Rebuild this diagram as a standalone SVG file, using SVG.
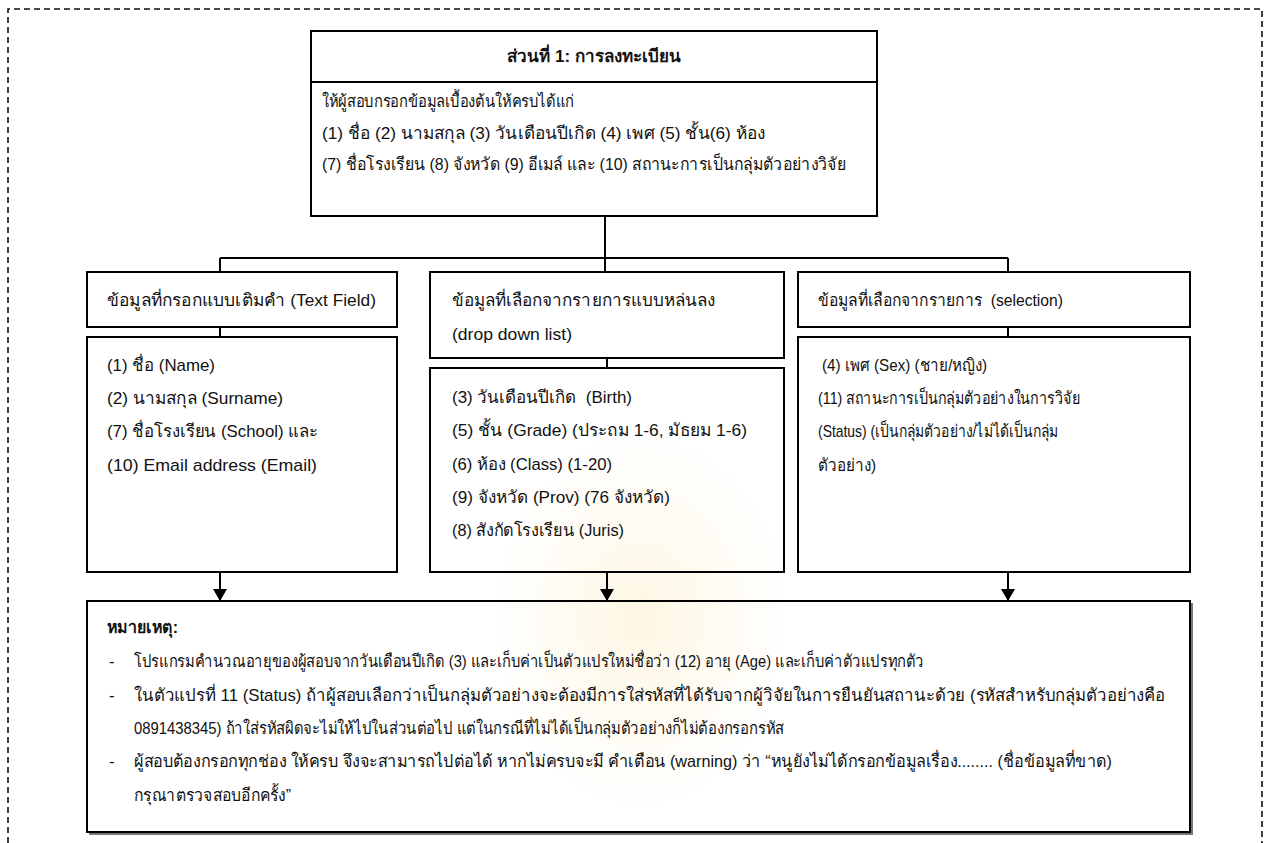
<svg xmlns="http://www.w3.org/2000/svg" width="1269" height="843" viewBox="0 0 1269 843">
  <defs>
    <style>
      .box { fill: none; stroke: #000; stroke-width: 2; }
      .line { fill: none; stroke: #000; stroke-width: 2; }
      .frame { fill: none; stroke: #111; stroke-width: 1.6; stroke-dasharray: 6 4; }
      .t { font-family: "Liberation Sans", "Noto Sans", "DejaVu Sans", sans-serif; font-size: 17px; fill: #111; }
      .b { font-weight: bold; font-size: 17px; }
    </style>
    <marker id="arrow" viewBox="0 0 12 14" refX="12" refY="7" markerWidth="12" markerHeight="14" markerUnits="userSpaceOnUse" orient="auto">
      <path d="M0,0 L12,7 L0,14 Z" fill="#000"/>
    </marker>
    <radialGradient id="glow" cx="0.5" cy="0.5" r="0.5">
      <stop offset="0" stop-color="#fbe7b0" stop-opacity="0.35"/>
      <stop offset="1" stop-color="#fbe7b0" stop-opacity="0"/>
    </radialGradient>
  </defs>

  <rect width="1269" height="843" fill="#fff"/>
  <!-- faint emblem glow in the background -->
  <ellipse cx="640" cy="620" rx="150" ry="190" fill="url(#glow)"/>

  <!-- dashed outer frame (open at the bottom) -->
  <path class="frame" d="M8,843 L8,9 L1262,9 L1262,843"/>

  <!-- connectors -->
  <g id="connectors">
    <path class="line" d="M605,216 L605,272"/>
    <path class="line" d="M220,258 L1008,258"/>
    <path class="line" d="M220,258 L220,272"/>
    <path class="line" d="M1008,258 L1008,272"/>
    <path class="line" d="M220,327 L220,337"/>
    <path class="line" d="M607,358 L607,368"/>
    <path class="line" d="M1008,327 L1008,337"/>
    <path class="line" d="M220,572 L220,601" marker-end="url(#arrow)"/>
    <path class="line" d="M607,572 L607,601" marker-end="url(#arrow)"/>
    <path class="line" d="M1008,572 L1008,601" marker-end="url(#arrow)"/>
  </g>

  <!-- registration section -->
  <g id="registration">
    <rect class="box" x="311" y="31" width="566" height="185"/>
    <path class="line" d="M311,82 L877,82"/>
    <text class="t b" x="594" y="62" text-anchor="middle">ส่วนที่ 1: การลงทะเบียน</text>
    <text class="t" x="322" y="107" textLength="252" lengthAdjust="spacingAndGlyphs">ให้ผู้สอบกรอกข้อมูลเบื้องต้นให้ครบได้แก่</text>
    <text class="t" x="322" y="139" textLength="443" lengthAdjust="spacingAndGlyphs">(1) ชื่อ (2) นามสกุล (3) วันเดือนปีเกิด (4) เพศ (5) ชั้น(6) ห้อง</text>
    <text class="t" x="322" y="170" textLength="524" lengthAdjust="spacingAndGlyphs">(7) ชื่อโรงเรียน (8) จังหวัด (9) อีเมล์ และ (10) สถานะการเป็นกลุ่มตัวอย่างวิจัย</text>
  </g>

  <!-- text field inputs -->
  <g id="text-field-header">
    <rect class="box" x="87" y="272" width="310" height="55"/>
    <text class="t" x="107" y="306" textLength="269" lengthAdjust="spacingAndGlyphs">ข้อมูลที่กรอกแบบเติมคำ (Text Field)</text>
  </g>
  <g id="text-field-items">
    <rect class="box" x="87" y="337" width="310" height="235"/>
    <text class="t" x="107" y="371" textLength="108" lengthAdjust="spacingAndGlyphs">(1) ชื่อ (Name)</text>
    <text class="t" x="107" y="404" textLength="176" lengthAdjust="spacingAndGlyphs">(2) นามสกุล (Surname)</text>
    <text class="t" x="107" y="437" textLength="211" lengthAdjust="spacingAndGlyphs">(7) ชื่อโรงเรียน (School) และ</text>
    <text class="t" x="107" y="471" textLength="210" lengthAdjust="spacingAndGlyphs">(10) Email address (Email)</text>
  </g>

  <!-- drop down list inputs -->
  <g id="dropdown-header">
    <rect class="box" x="430" y="272" width="354" height="86"/>
    <text class="t" x="452" y="306" textLength="263" lengthAdjust="spacingAndGlyphs">ข้อมูลที่เลือกจากรายการแบบหล่นลง</text>
    <text class="t" x="452" y="340" textLength="120" lengthAdjust="spacingAndGlyphs">(drop down list)</text>
  </g>
  <g id="dropdown-items">
    <rect class="box" x="430" y="368" width="354" height="204"/>
    <text class="t" x="452" y="403" xml:space="preserve" textLength="180" lengthAdjust="spacingAndGlyphs">(3) วันเดือนปีเกิด  (Birth)</text>
    <text class="t" x="452" y="436" textLength="295" lengthAdjust="spacingAndGlyphs">(5) ชั้น (Grade) (ประถม 1-6, มัธยม 1-6)</text>
    <text class="t" x="452" y="470" textLength="160" lengthAdjust="spacingAndGlyphs">(6) ห้อง (Class) (1-20)</text>
    <text class="t" x="452" y="503" textLength="218" lengthAdjust="spacingAndGlyphs">(9) จังหวัด (Prov) (76 จังหวัด)</text>
    <text class="t" x="452" y="536" textLength="172" lengthAdjust="spacingAndGlyphs">(8) สังกัดโรงเรียน (Juris)</text>
  </g>

  <!-- selection inputs -->
  <g id="selection-header">
    <rect class="box" x="798" y="272" width="392" height="55"/>
    <text class="t" x="818" y="306" xml:space="preserve" textLength="245" lengthAdjust="spacingAndGlyphs">ข้อมูลที่เลือกจากรายการ  (selection)</text>
  </g>
  <g id="selection-items">
    <rect class="box" x="798" y="337" width="392" height="235"/>
    <text class="t" x="822" y="371" textLength="165" lengthAdjust="spacingAndGlyphs">(4) เพศ (Sex) (ชาย/หญิง)</text>
    <text class="t" x="818" y="404" textLength="262" lengthAdjust="spacingAndGlyphs">(11) สถานะการเป็นกลุ่มตัวอย่างในการวิจัย</text>
    <text class="t" x="818" y="437" textLength="240" lengthAdjust="spacingAndGlyphs">(Status) (เป็นกลุ่มตัวอย่าง/ไม่ได้เป็นกลุ่ม</text>
    <text class="t" x="818" y="471" textLength="58" lengthAdjust="spacingAndGlyphs">ตัวอย่าง)</text>
  </g>

  <!-- notes -->
  <g id="notes">
    <path d="M89,834 L1192,834 L1192,603" fill="none" stroke="#777" stroke-width="2"/>
    <rect class="box" x="87" y="601" width="1103" height="231"/>
    <text class="t b" x="107" y="633" textLength="71" lengthAdjust="spacingAndGlyphs">หมายเหตุ:</text>
    <text class="t" x="109" y="667">-</text>
    <text class="t" x="134" y="667" textLength="790" lengthAdjust="spacingAndGlyphs">โปรแกรมคำนวณอายุของผู้สอบจากวันเดือนปีเกิด (3) และเก็บค่าเป็นตัวแปรใหม่ชื่อว่า (12) อายุ (Age) และเก็บค่าตัวแปรทุกตัว</text>
    <text class="t" x="109" y="701">-</text>
    <text class="t" x="134" y="701" textLength="1031" lengthAdjust="spacingAndGlyphs">ในตัวแปรที่ 11 (Status) ถ้าผู้สอบเลือกว่าเป็นกลุ่มตัวอย่างจะต้องมีการใส่รหัสที่ได้รับจากผู้วิจัยในการยืนยันสถานะด้วย (รหัสสำหรับกลุ่มตัวอย่างคือ</text>
    <text class="t" x="134" y="734" textLength="650" lengthAdjust="spacingAndGlyphs">0891438345) ถ้าใส่รหัสผิดจะไม่ให้ไปในส่วนต่อไป แต่ในกรณีที่ไม่ได้เป็นกลุ่มตัวอย่างก็ไม่ต้องกรอกรหัส</text>
    <text class="t" x="109" y="767">-</text>
    <text class="t" x="134" y="767" textLength="978" lengthAdjust="spacingAndGlyphs">ผู้สอบต้องกรอกทุกช่อง ให้ครบ จึงจะสามารถไปต่อได้ หากไม่ครบจะมี คำเตือน (warning) ว่า “หนูยังไม่ได้กรอกข้อมูลเรื่อง........ (ชื่อข้อมูลที่ขาด)</text>
    <text class="t" x="134" y="801" textLength="157" lengthAdjust="spacingAndGlyphs">กรุณาตรวจสอบอีกครั้ง”</text>
  </g>
</svg>
